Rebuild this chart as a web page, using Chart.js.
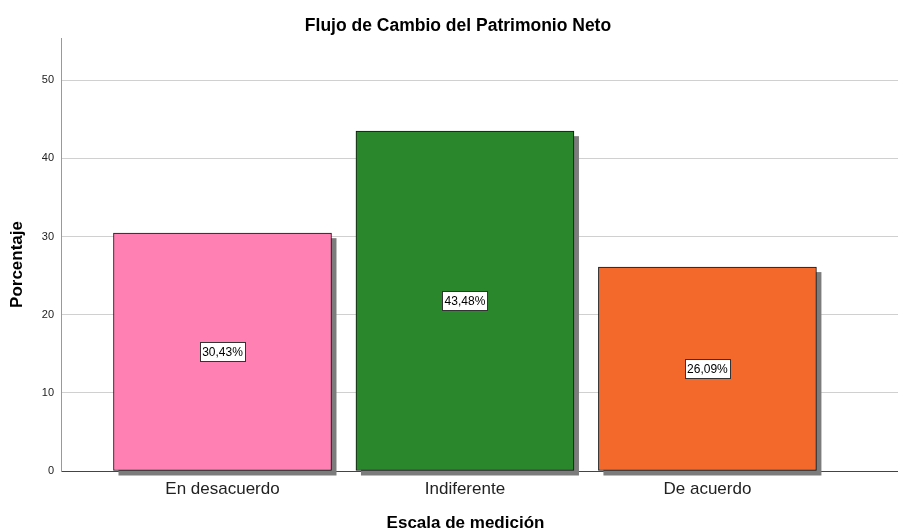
<!DOCTYPE html>
<html><head><meta charset="utf-8">
<script src="https://cdn.jsdelivr.net/npm/chart.js@4"></script>
<style>html,body{margin:0;padding:0;background:#fff}#wrap{width:898px;height:531px}</style>
</head><body><div id="wrap"><canvas id="c" width="898" height="531"></canvas></div>
<script>
const chartTitle = 'Flujo de Cambio del Patrimonio Neto';
const xTitle = 'Escala de medición';
const yTitle = 'Porcentaje';
const categories = ['En desacuerdo', 'Indiferente', 'De acuerdo'];
const percentages = [30.43, 43.48, 26.09];
const barColors = ['#ff80b3', '#2a872b', '#f2692b'];
const yTicks = [0, 10, 20, 30, 40, 50];

Chart.defaults.font.family = "'Liberation Sans', Arial, sans-serif";
Chart.defaults.color = '#222';

const shadowPlugin = {
  id: 'shadow',
  beforeDatasetsDraw(chart) {
    const ctx = chart.ctx;
    ctx.save();
    ctx.fillStyle = '#7c7c7c';
    chart.getDatasetMeta(0).data.forEach(b => {
      const p = b.getProps(['x', 'y', 'base', 'width'], true);
      ctx.fillRect(p.x - p.width / 2 + 5, p.y + 5, p.width, p.base - p.y);
    });
    ctx.restore();
  }
};

const labelPlugin = {
  id: 'valueLabels',
  afterDatasetsDraw(chart) {
    const ctx = chart.ctx;
    const ds = chart.data.datasets[0];
    ctx.save();
    ctx.font = "12px 'Liberation Sans', Arial, sans-serif";
    ctx.textAlign = 'center';
    ctx.textBaseline = 'middle';
    chart.getDatasetMeta(0).data.forEach((b, i) => {
      const p = b.getProps(['x', 'y', 'base'], true);
      const txt = ds.data[i].y.toFixed(2).replace('.', ',') + '%';
      const tw = ctx.measureText(txt).width;
      const w = Math.round(tw + 4), h = 19;
      const cx = p.x, cy = (p.y + p.base) / 2;
      const bx = Math.round(cx - w / 2) + 0.5, by = Math.round(cy - h / 2) + 0.5;
      ctx.fillStyle = '#fff';
      ctx.fillRect(bx, by, w, h);
      ctx.strokeStyle = '#333';
      ctx.lineWidth = 1;
      ctx.strokeRect(bx, by, w, h);
      ctx.fillStyle = '#000';
      ctx.fillText(txt, cx, cy + 0.5);
    });
    ctx.restore();
  }
};

// shift built-in titles slightly so they sit where the reference places them
function shiftDraw(obj, method, dx, dy) {
  if (!obj || obj['_shifted_' + method]) return;
  const orig = obj[method];
  obj[method] = function (...args) {
    const ctx = this.ctx;
    ctx.save();
    ctx.translate(dx, dy);
    const r = orig.apply(this, args);
    ctx.restore();
    return r;
  };
  obj['_shifted_' + method] = true;
}
const titleShiftPlugin = {
  id: 'titleShift',
  afterLayout(chart) {
    shiftDraw(chart.titleBlock, 'draw', 9, 0);
    shiftDraw(chart.scales.x, 'drawTitle', -14, 0);
    shiftDraw(chart.scales.y, 'drawTitle', 0, 10);
  }
};

new Chart(document.getElementById('c'), {
  type: 'bar',
  data: {
    datasets: [{
      data: categories.map((c, i) => ({ x: i, y: percentages[i] })),
      backgroundColor: barColors,
      borderColor: '#111',
      borderWidth: 1,
      borderSkipped: false,
      barThickness: 218
    }]
  },
  options: {
    responsive: false,
    animation: false,
    devicePixelRatio: 1,
    layout: { padding: 0 },
    plugins: {
      legend: { display: false },
      tooltip: { enabled: false },
      title: {
        display: true,
        text: chartTitle,
        color: '#000',
        font: { size: 17.5, weight: 'bold', lineHeight: 1.2 },
        padding: { top: 15.5, bottom: 1.5 }
      }
    },
    scales: {
      x: {
        type: 'linear',
        offset: false,
        min: -0.666,
        max: 2.786,
        afterBuildTicks: s => { s.ticks = categories.map((c, i) => ({ value: i })); },
        afterFit: s => { s.height = 60; },
        grid: { display: false, drawTicks: false, offset: false },
        border: { display: true, color: '#444', width: 1 },
        ticks: {
          autoSkip: false, maxRotation: 0, padding: 8,
          color: '#222',
          font: { size: 17 },
          callback: v => categories[v]
        },
        title: {
          display: true, text: xTitle, color: '#000',
          font: { size: 17, weight: 'bold', lineHeight: 1 },
          padding: { top: 0, bottom: -1 }
        }
      },
      y: {
        min: 0,
        max: 55.4,
        afterBuildTicks: s => { s.ticks = yTicks.map(v => ({ value: v })); },
        afterFit: s => { s.width = 61; },
        grid: { color: ctx => ctx.tick && ctx.tick.value === 0 ? '#444' : '#d0d0d0', drawTicks: false },
        border: { display: true, color: '#999', width: 1 },
        ticks: { padding: 7, color: '#222', font: { size: 11 } },
        title: {
          display: true, text: yTitle, color: '#000',
          font: { size: 17, weight: 'bold', lineHeight: 1.2 },
          padding: { top: 6.8, bottom: 0 }
        }
      }
    }
  },
  plugins: [shadowPlugin, labelPlugin, titleShiftPlugin]
});
</script>
</body></html>
